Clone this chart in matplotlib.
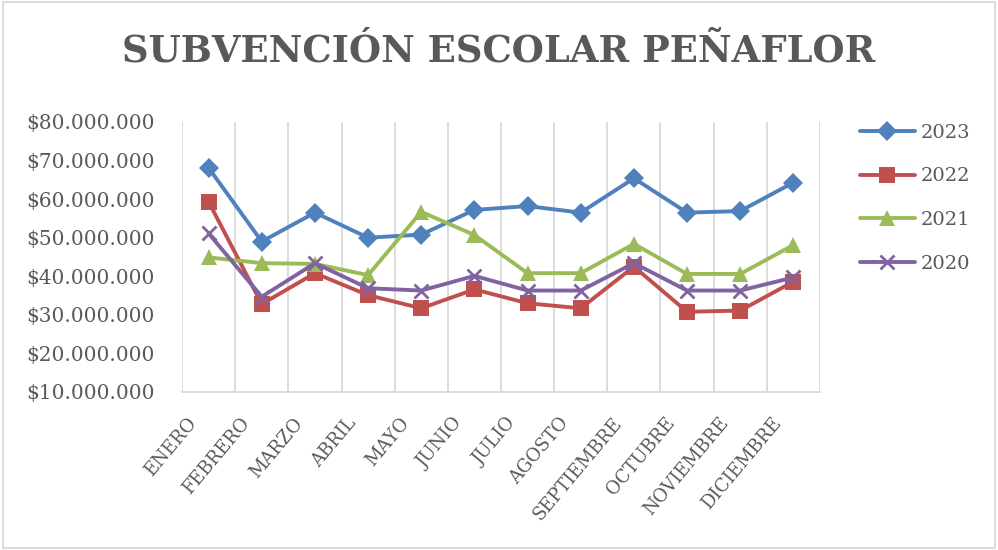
import numpy as np
import matplotlib.pyplot as plt
import matplotlib.transforms as mtransforms
from matplotlib.ticker import FuncFormatter, FixedLocator
from matplotlib.patches import Rectangle

meses = ["ENERO", "FEBRERO", "MARZO", "ABRIL", "MAYO", "JUNIO", "JULIO",
         "AGOSTO", "SEPTIEMBRE", "OCTUBRE", "NOVIEMBRE", "DICIEMBRE"]
# valores en millones de pesos
v2023 = [68.1, 49.0, 56.5, 50.0, 50.8, 57.2, 58.2, 56.5, 65.4, 56.5, 56.9, 64.3]
v2022 = [59.3, 32.8, 40.8, 35.1, 31.7, 36.6, 33.0, 31.7, 42.5, 30.8, 31.1, 38.6]
v2021 = [44.9, 43.4, 43.2, 40.3, 56.7, 50.7, 40.8, 40.8, 48.4, 40.6, 40.6, 48.1]
v2020 = [51.1, 34.7, 43.4, 36.9, 36.3, 40.1, 36.3, 36.3, 43.4, 36.3, 36.3, 39.7]
yticks = [10, 20, 30, 40, 50, 60, 70, 80]

gris = "#595959"
plt.rcParams['font.family'] = ["DejaVu Serif"]

fig = plt.figure(figsize=(9.98, 5.5), dpi=100)
ax = fig.add_axes([0.1824, 0.2873, 0.6392, 0.4909])

x = np.arange(len(meses))
series = [
    ("2023", v2023, "#4F81BD", "D", 10.5),
    ("2022", v2022, "#C0504D", "s", 11),
    ("2021", v2021, "#9BBB59", "^", 12),
    ("2020", v2020, "#8064A2", "x", 10.5),
]
for name, vals, col, mk, ms in series:
    ax.plot(x, np.array(vals) * 1e6, color=col, lw=2.8, marker=mk, ms=ms,
            mew=2 if mk == "x" else 0, mec=col, label=name, solid_capstyle="round")

ax.set_xlim(-0.5, len(meses) - 0.5)
ax.set_ylim(10e6, 80e6)
ax.yaxis.set_major_locator(FixedLocator([v * 1e6 for v in yticks]))
ax.yaxis.set_major_formatter(FuncFormatter(lambda v, p: "$" + f"{v:,.0f}".replace(",", ".")))
ax.set_xticks(np.arange(-0.5, len(meses)), minor=True)
ax.grid(which="minor", axis="x", color="#D9D9D9", lw=1.3)
ax.tick_params(axis="both", which="both", length=0)
ax.tick_params(axis="y", labelsize=14.5, labelcolor=gris, pad=20)
ax.tick_params(axis="x", labelsize=13, labelcolor=gris, pad=16)
ax.set_xticks(x)
ax.set_xticklabels(meses, rotation=50, ha="right", rotation_mode="anchor")
shift = mtransforms.ScaledTranslation(-0.22, 0, fig.dpi_scale_trans)
for lab in ax.get_xticklabels():
    lab.set_transform(lab.get_transform() + shift)
for s in ["top", "right", "left"]:
    ax.spines[s].set_visible(False)
ax.spines["bottom"].set_color("#D9D9D9")
ax.spines["bottom"].set_linewidth(1.3)

leg = fig.legend(*ax.get_legend_handles_labels(), loc="upper left",
                 bbox_to_anchor=(0.862, 0.775), frameon=False, borderpad=0,
                 borderaxespad=0, fontsize=14, labelspacing=1.32,
                 handlelength=2.8, handletextpad=0.3)
for t in leg.get_texts():
    t.set_color(gris)

fig.text(0.5, 0.907, "SUBVENCIÓN ESCOLAR PEÑAFLOR", ha="center", va="center",
         fontsize=26.6, fontweight="bold", color=gris)

fig.patches.append(Rectangle((0.003, 0.004), 0.994, 0.992, transform=fig.transFigure,
                             fill=False, ec="#D9D9D9", lw=1.3))

fig.savefig("out.png", dpi=100)
